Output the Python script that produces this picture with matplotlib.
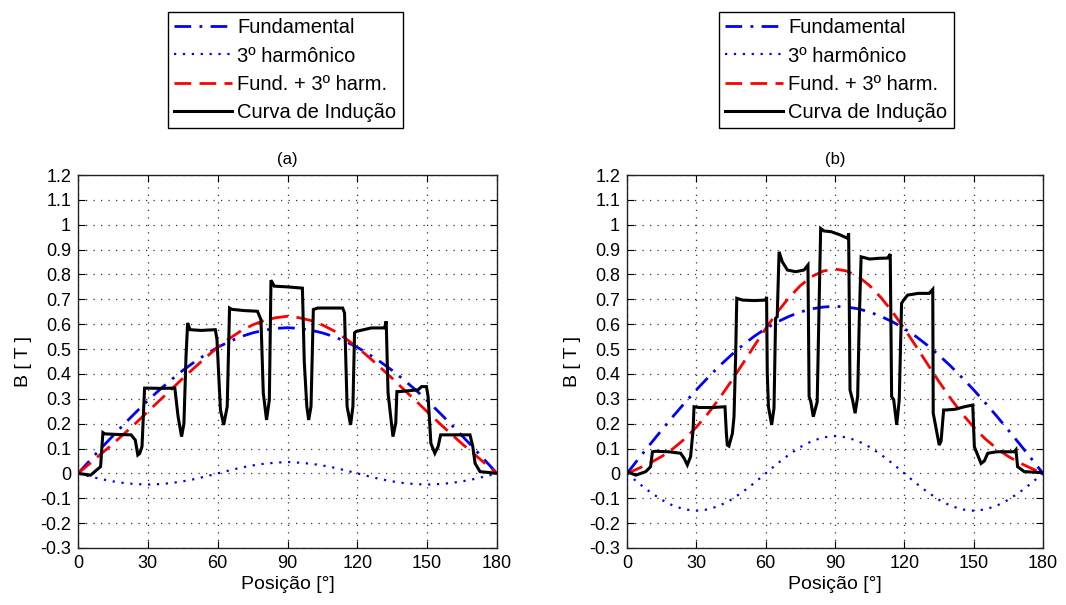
import matplotlib
matplotlib.use("Agg")
import matplotlib.pyplot as plt

plt.rcParams['font.family'] = ['Liberation Sans', 'DejaVu Sans']

# ---------------- data ----------------
pos_deg = [0, 5, 10, 15, 20, 25, 30, 35, 40, 45, 50, 55, 60, 65, 70, 75, 80, 85, 90,
           95, 100, 105, 110, 115, 120, 125, 130, 135, 140, 145, 150, 155, 160, 165, 170, 175, 180]

fund_a = [0, .051, .102, .151, .200, .247, .293, .336, .376, .414, .448, .479, .507, .530, .550, .565, .576, .583, .586,
          .583, .576, .565, .550, .530, .507, .479, .448, .414, .376, .336, .293, .247, .200, .151, .102, .051, 0]
harm3_a = [0, -.012, -.023, -.032, -.039, -.043, -.045, -.043, -.039, -.032, -.023, -.012, 0, .012, .023, .032, .039, .043, .046,
           .043, .039, .032, .023, .012, 0, -.012, -.023, -.032, -.039, -.043, -.045, -.043, -.039, -.032, -.023, -.012, 0]
sum_a = [0, .039, .079, .119, .161, .204, .248, .293, .337, .382, .425, .467, .507, .542, .573, .597, .615, .626, .632,
         .626, .615, .597, .573, .542, .507, .467, .425, .382, .337, .293, .248, .204, .161, .119, .079, .039, 0]

fund_b = [0, .059, .117, .174, .230, .284, .336, .385, .432, .475, .515, .551, .582, .609, .631, .649, .662, .669, .672,
          .669, .662, .649, .631, .609, .582, .551, .515, .475, .432, .385, .336, .284, .230, .174, .117, .059, 0]
harm3_b = [0, -.039, -.075, -.106, -.130, -.145, -.150, -.145, -.130, -.106, -.075, -.039, 0, .039, .075, .106, .130, .145, .150,
           .145, .130, .106, .075, .039, 0, -.039, -.075, -.106, -.130, -.145, -.150, -.145, -.130, -.106, -.075, -.039, 0]
sum_b = [0, .020, .042, .068, .100, .139, .186, .240, .302, .369, .440, .512, .582, .648, .706, .755, .792, .814, .822,
         .814, .792, .755, .706, .648, .582, .512, .440, .369, .302, .240, .186, .139, .100, .068, .042, .020, 0]

ind_pos_a = [0, 5.4, 9.7, 10.7,
             11.5, 16, 22.8, 24.6,
             25.7, 26.5, 27.5, 28.6,
             29.5, 35, 41.6,
             43.0, 44.5, 45.5, 46.4, 47.1,
             48.1, 53, 59.0,
             59.7, 61.2, 62.6, 64.1, 65.1,
             66, 71, 77.1,
             78.6, 79.6, 81.0, 82.2, 82.9,
             84.3, 90, 96.4,
             97.2, 98.3, 99.1, 100.1, 101.1,
             103, 108, 113.7,
             114.5, 115.6, 117.1, 118.1, 118.8,
             119.5, 126, 131.7,
             132.4, 133.2, 135.3, 136.5, 137.0,
             138.2, 146.1, 147.6, 149.7,
             150.4, 151.6, 153.3, 154.7, 155.8,
             162, 168.4,
             169.6, 170.6, 172.7, 176, 180]
ind_B_a = [0, -0.007, 0.027, 0.164,
           0.159, 0.157, 0.155, 0.134,
           0.074, 0.080, 0.108, 0.343,
           0.343, 0.342, 0.343,
           0.228, 0.148, 0.200, 0.470, 0.605,
           0.578, 0.575, 0.578,
           0.538, 0.255, 0.195, 0.269, 0.665,
           0.660, 0.655, 0.652,
           0.618, 0.323, 0.215, 0.296, 0.777,
           0.753, 0.750, 0.745,
           0.450, 0.269, 0.215, 0.269, 0.659,
           0.665, 0.665, 0.665,
           0.645, 0.269, 0.195, 0.269, 0.565,
           0.571, 0.585, 0.585,
           0.612, 0.323, 0.148, 0.202, 0.329,
           0.329, 0.336, 0.349, 0.349,
           0.309, 0.121, 0.081, 0.108, 0.155,
           0.155, 0.155,
           0.108, 0.040, 0.007, 0.004, 0.0]

ind_pos_b = [0, 3.8, 8.1, 10.2, 11.0,
             12.4, 18, 23.2, 24.7,
             26.1, 27.5, 28.6, 29.0,
             31.2, 37, 42.4,
             43.0, 43.4, 44.1, 45.6, 46.3, 47.0, 47.5,
             50, 55, 60.0, 60.4,
             60.7, 61.2, 62.6, 63.6, 64.3, 65.0, 65.8,
             67.2, 69.4, 73, 76.6, 78.3,
             78.8, 79.5, 80.6, 82.3, 83.1, 83.8,
             85.2, 88.3, 92, 95.5, 95.9,
             96.2, 96.5, 97.6, 98.7, 99.8, 100.5, 101.3,
             105, 109, 112.8, 113.9,
             114.5, 115.4, 116.7, 117.8, 118.8,
             119.7, 121.4, 126, 130.8, 132.3,
             132.5, 135.1, 135.9, 137.0,
             138, 142, 146, 149.6,
             150.3, 153.2, 154.6, 156.1,
             160, 167.6, 168.3,
             169.0, 171.9, 176, 180]
ind_B_b = [0.007, -0.007, 0.007, 0.027, 0.087,
           0.089, 0.087, 0.081, 0.061,
           0.034, 0.067, 0.175, 0.268,
           0.265, 0.265, 0.268,
           0.161, 0.114, 0.110, 0.161, 0.228, 0.469, 0.704,
           0.697, 0.695, 0.697, 0.710,
           0.402, 0.268, 0.195, 0.262, 0.624, 0.630, 0.891,
           0.851, 0.818, 0.811, 0.818, 0.838,
           0.309, 0.290, 0.228, 0.288, 0.670, 0.985,
           0.975, 0.972, 0.960, 0.945, 0.965,
           0.657, 0.335, 0.295, 0.242, 0.309, 0.617, 0.871,
           0.862, 0.865, 0.866, 0.882,
           0.309, 0.296, 0.195, 0.296, 0.684,
           0.697, 0.717, 0.724, 0.724, 0.740,
           0.242, 0.114, 0.130, 0.255,
           0.255, 0.258, 0.268, 0.275,
           0.107, 0.040, 0.050, 0.081,
           0.087, 0.087, 0.095,
           0.027, 0.007, 0.005, 0.003]

legend_labels = ['Fundamental', '3º harmônico', 'Fund. + 3º harm.', 'Curva de Indução']
x_ticks = [0, 30, 60, 90, 120, 150, 180]
y_ticks = [-0.3, -0.2, -0.1, 0, 0.1, 0.2, 0.3, 0.4, 0.5, 0.6, 0.7, 0.8, 0.9, 1.0, 1.1, 1.2]
y_ticklabels = ['-0.3', '-0.2', '-0.1', '0', '0.1', '0.2', '0.3', '0.4', '0.5', '0.6',
                '0.7', '0.8', '0.9', '1', '1.1', '1.2']
titles = ['(a)', '(b)']
xlabel = 'Posição [°]'
ylabel = 'B [ T ]'

# ---------------- figure ----------------
W, H = 1066, 605
fig = plt.figure(figsize=(W / 100, H / 100), dpi=100)

panels = [
    (fund_a, harm3_a, sum_a, ind_pos_a, ind_B_a, 78, 497, 168),
    (fund_b, harm3_b, sum_b, ind_pos_b, ind_B_b, 627, 1043, 719),
]
top_px, bot_px = 175, 548

for i, (fu, h3, su, ip, ib, lpx, rpx, legx) in enumerate(panels):
    ax = fig.add_axes([lpx / W, 1 - bot_px / H, (rpx - lpx) / W, (bot_px - top_px) / H])
    l1, = ax.plot(pos_deg, fu, color='#0000ff', lw=2.0, linestyle=(0, (6, 3, 1, 3)))
    l2, = ax.plot(pos_deg, h3, color='#0000ff', lw=1.6, linestyle=(0, (1, 3)))
    l3, = ax.plot(pos_deg, su, color='#ff0000', lw=2.0, linestyle=(0, (6, 3)))
    l4, = ax.plot(ip, ib, color='black', lw=2.2, solid_joinstyle='miter')
    ax.set_xlim(0, 180)
    ax.set_ylim(-0.3, 1.2)
    ax.set_xticks(x_ticks)
    ax.set_xticklabels([str(t) for t in x_ticks])
    ax.set_yticks(y_ticks)
    ax.set_yticklabels(y_ticklabels)
    ax.tick_params(direction='in', length=5, width=0.8, labelsize=13, pad=5,
                   top=True, right=True, colors='black')
    ax.grid(True, color='#333333', linestyle=(0, (1, 5)), linewidth=0.9)
    for sp in ax.spines.values():
        sp.set_linewidth(1.0)
        sp.set_color('#222222')
    ax.set_xlabel(xlabel, fontsize=14, labelpad=3)
    ax.set_ylabel(ylabel, fontsize=14, labelpad=6)
    ax.set_title(titles[i], fontsize=12, pad=8)
    leg = ax.legend([l1, l2, l3, l4], legend_labels, loc='upper left',
                    bbox_to_anchor=(legx / W, 1 - 12 / H), bbox_transform=fig.transFigure,
                    borderaxespad=0, fontsize=14.5, frameon=True, fancybox=False,
                    edgecolor='black', framealpha=1, handlelength=2.9, handletextpad=0.25,
                    labelspacing=0.47, borderpad=0.3)
    leg.get_frame().set_linewidth(1.0)

fig.savefig('out.png', dpi=100)
